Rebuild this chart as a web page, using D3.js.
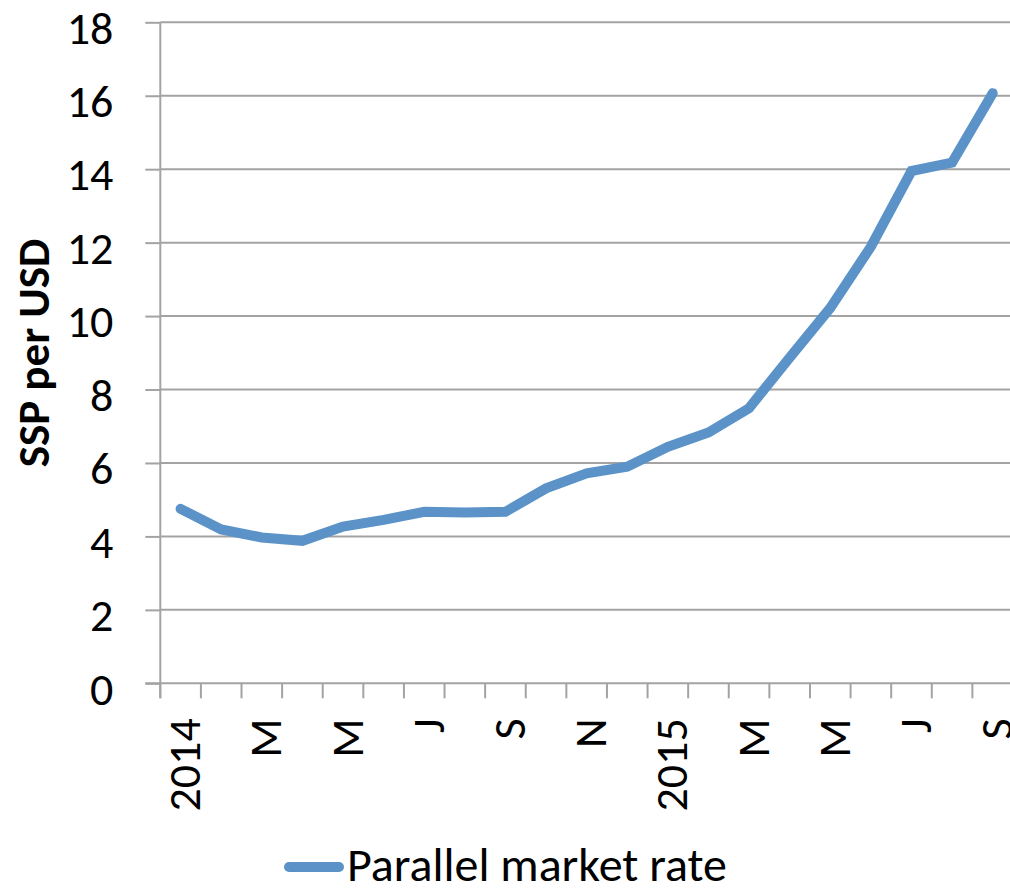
<!DOCTYPE html>
<html>
<head>
<meta charset="utf-8">
<script src="https://cdn.jsdelivr.net/npm/d3@7"></script>
<style>
  html, body { margin: 0; padding: 0; background: #fff; }
  svg { display: block; }
  text { font-family: Carlito, Lato, "Open Sans", sans-serif; fill: #000; }
</style>
</head>
<body>
<svg id="chart" width="1010" height="893"></svg>
<script>
const months = ["Jan 2014","Feb 2014","Mar 2014","Apr 2014","May 2014","Jun 2014","Jul 2014","Aug 2014","Sep 2014","Oct 2014","Nov 2014","Dec 2014",
                "Jan 2015","Feb 2015","Mar 2015","Apr 2015","May 2015","Jun 2015","Jul 2015","Aug 2015","Sep 2015"];
const monthLabels = ["2014","","M","","M","","J","","S","","N","","2015","","M","","M","","J","","S"];
const parallelRate = [4.75,4.19,3.97,3.88,4.27,4.45,4.67,4.65,4.67,5.31,5.72,5.90,6.44,6.83,7.49,8.87,10.22,11.89,13.95,14.18,16.07];
const yTicks = [0,2,4,6,8,10,12,14,16,18];
const seriesName = "Parallel market rate";
const yTitle = "SSP per USD";

(function () {
const svg = d3.select("#chart");
const pLeft = 160.3, pRight = 1013, pTop = 22.3, pBottom = 683.3;
const gridColor = "#a3a3a3";
const lineColor = "#5b93c8";
const fam = "Carlito, Lato, 'Open Sans', sans-serif";

const x = d3.scaleBand().domain(months).range([pLeft, pRight]).paddingInner(0).paddingOuter(0);
const y = d3.scaleLinear().domain([0, 18]).range([pBottom, pTop]);

// gridlines
svg.append("g").selectAll("line").data(yTicks.filter(d => d > 0)).join("line")
  .attr("x1", pLeft).attr("x2", pRight)
  .attr("y1", d => y(d)).attr("y2", d => y(d))
  .attr("stroke", gridColor).attr("stroke-width", 2);

// y axis
const yAxis = svg.append("g").attr("transform", `translate(${pLeft},0)`)
  .call(d3.axisLeft(y).tickValues(yTicks).tickSize(15).tickPadding(32).tickFormat(d3.format("d")));
yAxis.select(".domain").attr("stroke", gridColor).attr("stroke-width", 2)
  .attr("d", `M0,${pTop}V${pBottom + 15}`);
yAxis.selectAll(".tick line").attr("stroke", gridColor).attr("stroke-width", 2);
yAxis.selectAll(".tick text").attr("font-size", 46).attr("font-family", fam)
  .attr("dy", "0.45em").attr("fill", "#000");

// x axis
const xAxis = svg.append("g").attr("transform", `translate(0,${pBottom})`)
  .call(d3.axisBottom(x).tickSize(0).tickPadding(0).tickFormat((d, i) => monthLabels[i]));
xAxis.select(".domain").attr("stroke", gridColor).attr("stroke-width", 2)
  .attr("d", `M${pLeft - 15},0H${pRight}`);
xAxis.selectAll(".tick text")
  .attr("font-size", 46).attr("font-family", fam)
  .attr("text-anchor", "end")
  .attr("transform", "translate(3,35) rotate(-90)")
  .attr("x", 0).attr("y", 0).attr("dy", "0.36em").attr("fill", "#000");

// boundary tick marks
const boundaries = months.map(m => x(m)).concat([x(months[months.length - 1]) + x.step()]);
svg.append("g").selectAll("line").data(boundaries).join("line")
  .attr("x1", d => d).attr("x2", d => d)
  .attr("y1", pBottom).attr("y2", pBottom + 15)
  .attr("stroke", gridColor).attr("stroke-width", 2);

// line
const line = d3.line()
  .x((d, i) => x(months[i]) + x.bandwidth() / 2)
  .y(d => y(d));
svg.append("path").datum(parallelRate)
  .attr("d", line)
  .attr("fill", "none")
  .attr("stroke", lineColor)
  .attr("stroke-width", 10)
  .attr("stroke-linecap", "round")
  .attr("stroke-linejoin", "miter");

// y title
svg.append("text")
  .attr("transform", "translate(33,353) rotate(-90)")
  .attr("text-anchor", "middle")
  .attr("dy", "0.35em")
  .attr("font-size", 45)
  .attr("font-weight", "bold")
  .text(yTitle);

// legend
svg.append("line")
  .attr("x1", 289).attr("x2", 339).attr("y1", 867).attr("y2", 867)
  .attr("stroke", lineColor).attr("stroke-width", 10).attr("stroke-linecap", "round");
svg.append("text")
  .attr("x", 347).attr("y", 881)
  .attr("font-size", 48)
  .text(seriesName);
})();
</script>
</body>
</html>
